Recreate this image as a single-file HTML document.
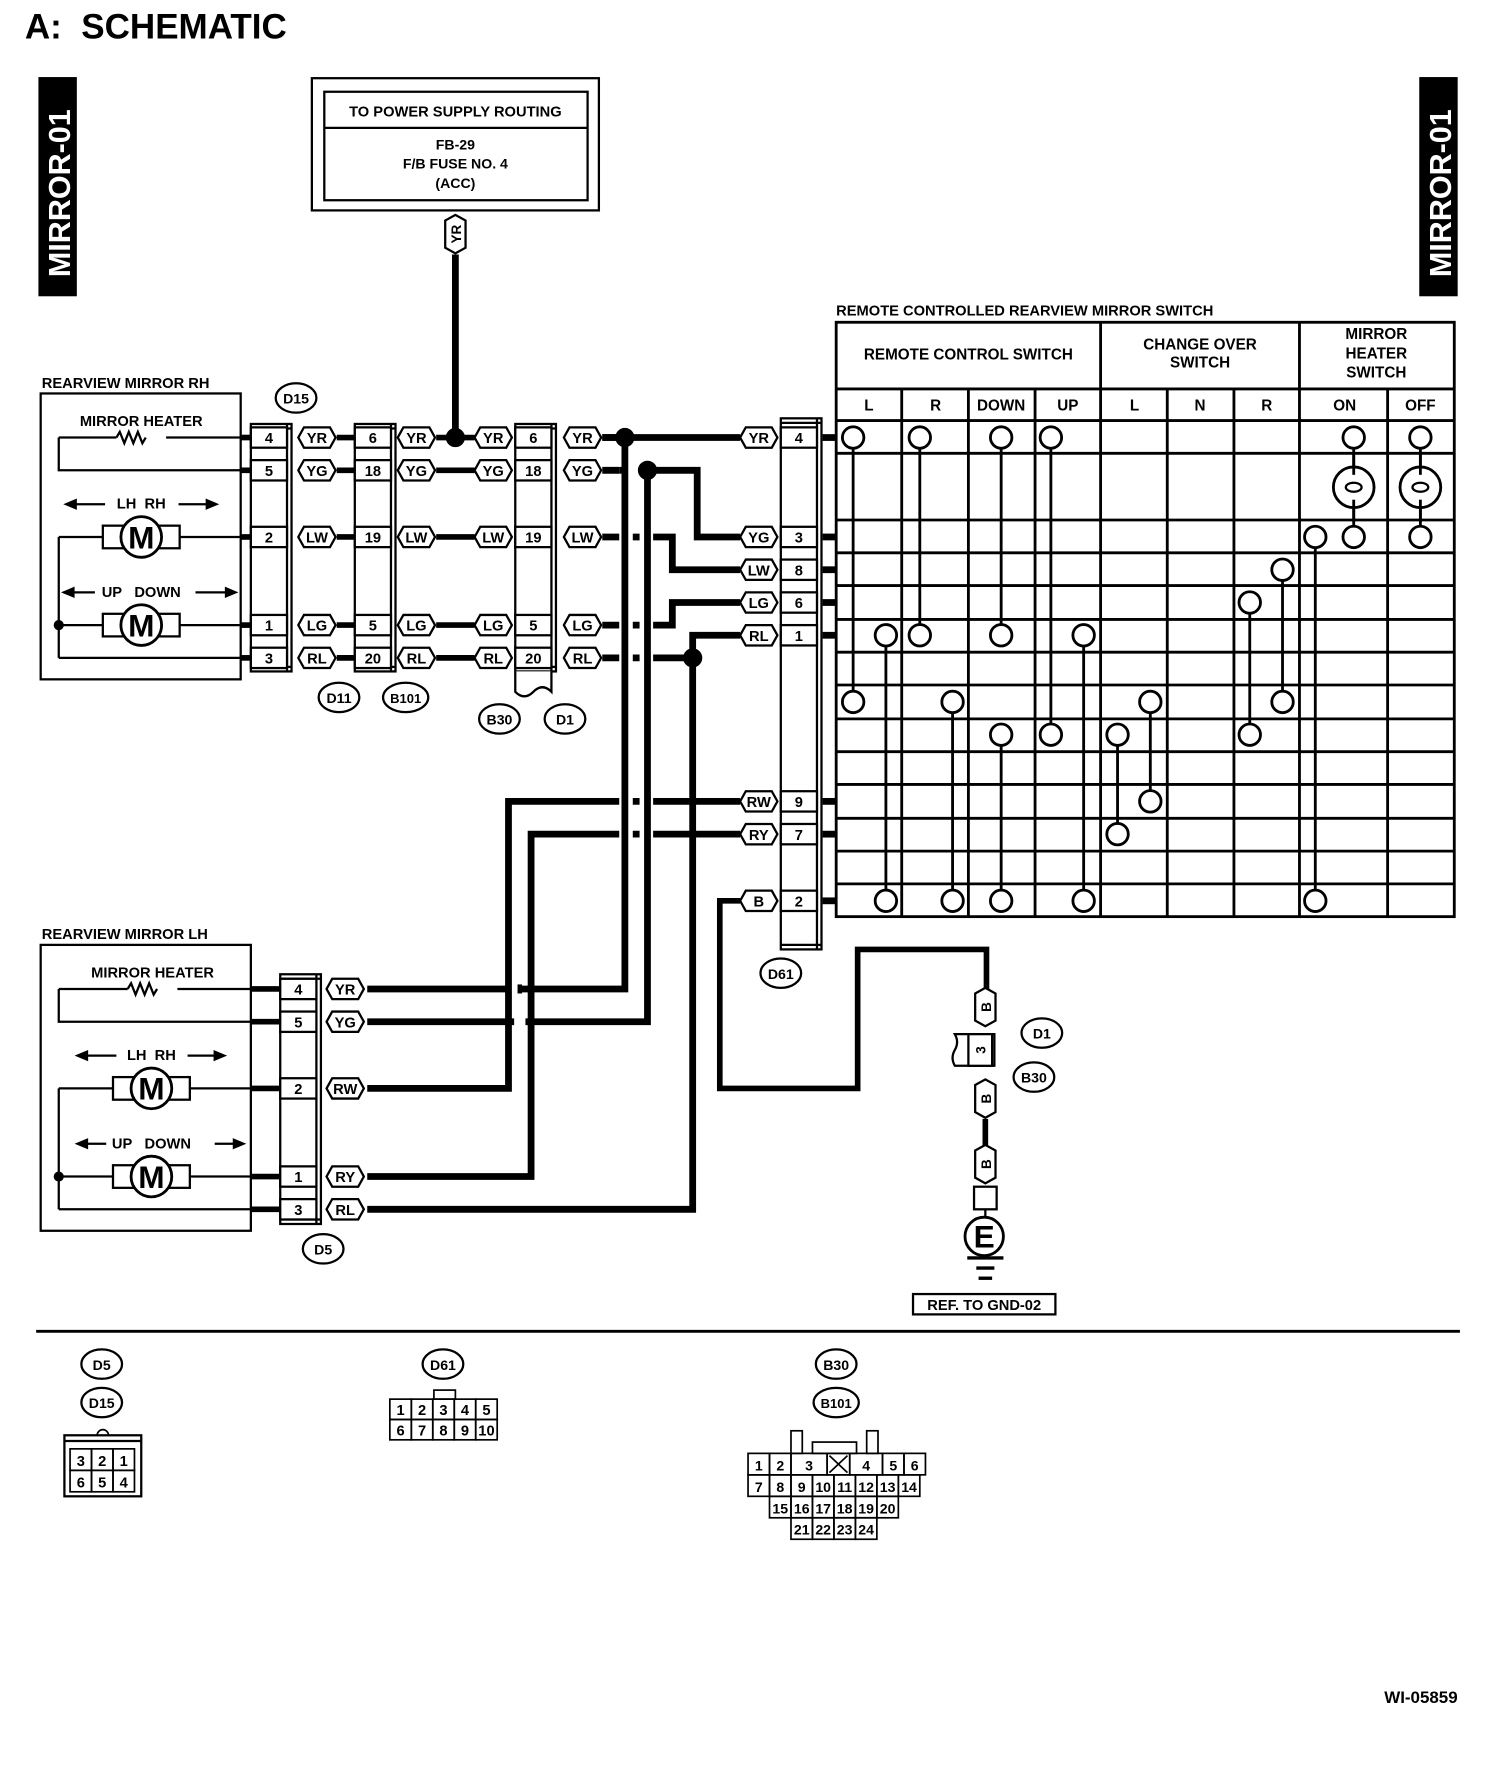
<!DOCTYPE html>
<html><head><meta charset="utf-8"><style>
html,body{margin:0;padding:0;background:#fff;}
svg{display:block}
text{font-family:"Liberation Sans",sans-serif;font-weight:bold;fill:#000}
</style></head><body>
<svg id="s" xmlns="http://www.w3.org/2000/svg" width="1504" height="1770" viewBox="0 0 1331 1566">
<rect width="1331" height="1566" fill="#fff"/>
<text x="22" y="34" font-size="31">A:&#160; SCHEMATIC</text>
<rect x="34" y="68" width="34" height="194" fill="#000"/>
<text transform="translate(62,245) rotate(-90)" font-size="27" style="fill:#fff">MIRROR-01</text>
<rect x="1256" y="68" width="34" height="194" fill="#000"/>
<text transform="translate(1284,245) rotate(-90)" font-size="27" style="fill:#fff">MIRROR-01</text>
<g fill="none" stroke="#000" stroke-width="2">
<rect x="276" y="69" width="254" height="117"/>
<rect x="287" y="81" width="233" height="96"/>
<line x1="287" y1="113" x2="520" y2="113"/>
</g>
<text x="403" y="103" font-size="13" text-anchor="middle" font-weight="normal">TO POWER SUPPLY ROUTING</text>
<text x="403" y="132" font-size="12.5" text-anchor="middle" font-weight="normal">FB-29</text>
<text x="403" y="149" font-size="12.5" text-anchor="middle" font-weight="normal">F/B FUSE NO. 4</text>
<text x="403" y="166" font-size="12.5" text-anchor="middle" font-weight="normal">(ACC)</text>
<g id="g"></g>
</svg>
<script>
var o='';
function L(x1,y1,x2,y2,w){o+='<line x1="'+x1+'" y1="'+y1+'" x2="'+x2+'" y2="'+y2+'" stroke="#000" stroke-width="'+(w||2)+'"/>';}
function P(d,w){o+='<path d="'+d+'" fill="none" stroke="#000" stroke-width="'+(w||6)+'" stroke-linejoin="miter"/>';}
function R(x,y,w,h,sw,f){o+='<rect x="'+x+'" y="'+y+'" width="'+w+'" height="'+h+'" fill="'+(f||'none')+'" stroke="#000" stroke-width="'+(sw||2)+'"/>';}
function T(x,y,t,s,a,extra){o+='<text x="'+x+'" y="'+y+'" font-size="'+(s||13)+'" text-anchor="'+(a||'middle')+'" '+(extra||'')+'>'+t+'</text>';}
function C(x,y,r,f,sw){o+='<circle cx="'+x+'" cy="'+y+'" r="'+r+'" fill="'+(f||'#fff')+'" stroke="#000" stroke-width="'+(sw||2)+'"/>';}
function E(x,y,t,rx){o+='<ellipse cx="'+x+'" cy="'+y+'" rx="'+(rx||18)+'" ry="13" fill="#fff" stroke="#000" stroke-width="2"/>';T(x,y+5,t,t.length>3?11.5:12.5);}
function WL(x,y,t){
 var w=33,h=18;o+='<path d="M'+(x+5)+' '+(y-h/2)+'H'+(x+w-5)+'L'+(x+w)+' '+y+'L'+(x+w-5)+' '+(y+h/2)+'H'+(x+5)+'L'+x+' '+y+'Z" fill="#fff" stroke="#000" stroke-width="2"/>';T(x+w/2,y+5,t,13);}
function WV(x,y,t){
 var w=18,h=34;o+='<path d="M'+(x-w/2)+' '+(y+5)+'L'+x+' '+y+'L'+(x+w/2)+' '+(y+5)+'V'+(y+h-5)+'L'+x+' '+(y+h)+'L'+(x-w/2)+' '+(y+h-5)+'Z" fill="#fff" stroke="#000" stroke-width="2"/>';
 o+='<text transform="translate('+(x+5)+','+(y+h/2)+') rotate(-90)" font-size="12" text-anchor="middle">'+t+'</text>';}
function CONN(x,y1,y2,pins,w){w=w||36; R(x,y1,w,y2-y1,2,'#fff');L(x+w-4,y1,x+w-4,y2,2);L(x,y1+4,x+w,y1+4,2);L(x,y2-4,x+w,y2-4,2);
 pins.forEach(function(p){R(x,p[0]-9,w-4,18,2,'#fff');T(x+(w-4)/2,p[0]+5,p[1],13);});}
P('M403 225V387',6);WV(403,190,'YR');
T(37,343,'REARVIEW MIRROR RH',13,'start');
R(36,348,177,253,2);
T(125,377,'MIRROR HEATER',13);
function zig(x,y){o+='<path d="M'+x+' '+y+'l3 -5 l4 10 l4 -10 l4 10 l4 -10 l4 10 l3 -5" fill="none" stroke="#000" stroke-width="2"/>';}
function motor(cx,y){R(cx-34,y-10,68,20,2,'#fff');C(cx,y,18,'#fff',2.5);T(cx,y+10,'M',28);}
P('M52 387H103',2);zig(103,387);P('M147 387H222',2);P('M52 387V416H222',2);
L(52,475,91,475,2);L(52,475,52,582,2);L(159,475,222,475,2);motor(125,475);
L(52,553,91,553,2);L(159,553,222,553,2);motor(125,553);L(52,582,222,582,2);C(52,553,4,'#000',1);
T(125,450,'LH&#160; RH',13);P('M60 446H93 M158 446H190',2);
o+='<path d="M56 446l12 -5v10z M194 446l-12 -5v10z" fill="#000"/>';
T(125,528,'UP&#160;&#160; DOWN',13);P('M56 524H84 M173 524H208',2);
o+='<path d="M54 524l12 -5v10z M211 524l-12 -5v10z" fill="#000"/>';
var rows=[[387,'4','YR'],[416,'5','YG'],[475,'2','LW'],[553,'1','LG'],[582,'3','RL']];
rows.forEach(function(r){P('M213 '+r[0]+'H222',5);P('M298 '+r[0]+'H314',5);P('M386 '+r[0]+'H420',5);P('M533 '+r[0]+'H548',6);});
CONN(222,375,594,[[387,'4'],[416,'5'],[475,'2'],[553,'1'],[582,'3']]);
var b1={387:'6',416:'18',475:'19',553:'5',582:'20'};
CONN(314,375,594,rows.map(function(r){return [r[0],b1[r[0]]];}));
CONN(456,375,594,rows.map(function(r){return [r[0],b1[r[0]]];}));
o+='<path d="M456 594V612 q8 8 16 0 q8 -8 16 0 V594" fill="#fff" stroke="#000" stroke-width="2"/>';
rows.forEach(function(r){WL(264,r[0],r[2]);WL(352,r[0],r[2]);WL(420,r[0],r[2]);WL(499,r[0],r[2]);});
C(403,387,8,'#000',1);
E(262,352,'D15');E(300,617,'D11');E(359,617,'B101',20);E(442,636,'B30');E(500,636,'D1');
P('M533 387H655',6);C(553,387,8,'#000',1);
P('M553 387V875H459 M452 875H325',6);P('M460 871V879',4);
P('M548 416H555',6);P('M573 416H617V475H655',6);C(573,416,8,'#000',1);
P('M573 416V904H465 M455 904H325',6);
P('M560 475H566 M578 475H595V504H655',6);
P('M560 553H566 M578 553H595V533H655',6);
P('M560 582H566 M578 582H613V562H655',6);C(613,582,8,'#000',1);
P('M613 582V1070H325',6);
P('M655 709H578 M566 709H560 M548 709H450V963H325',6);
P('M655 738H578 M566 738H560 M548 738H470V1041H325',6);
P('M655 797H637V963H759V840H873V878',5);
var d61=[[387,'4','YR'],[475,'3','YG'],[504,'8','LW'],[533,'6','LG'],[562,'1','RL'],[709,'9','RW'],[738,'7','RY'],[797,'2','B']];
d61.forEach(function(r){P('M728 '+r[0]+'H740',6);});
CONN(691,370,840,d61.map(function(r){return [r[0],r[1]];}));
d61.forEach(function(r){WL(655,r[0],r[2]);});
E(691,861,'D61');
T(740,279,'REMOTE CONTROLLED REARVIEW MIRROR SWITCH',13,'start');
R(740,285,547,526,2.5);
var cols=[798,857,916,1033,1092,1228];cols.forEach(function(x){L(x,344,x,811,2.5);});
[974,1150].forEach(function(x){L(x,285,x,811,2.5);});
[344,372,401,460,489,518,548,577,606,636,665,694,724,753,782].forEach(function(y){L(740,y,1287,y,2.5);});
T(857,318,'REMOTE CONTROL SWITCH',13.5);T(1062,309,'CHANGE OVER',13.5);T(1062,325,'SWITCH',13.5);
T(1218,300,'MIRROR',13.5);T(1218,317,'HEATER',13.5);T(1218,334,'SWITCH',13.5);
var hd=[[769,'L'],[828,'R'],[886,'DOWN'],[945,'UP'],[1004,'L'],[1062,'N'],[1121,'R'],[1190,'ON'],[1257,'OFF']];
hd.forEach(function(h){T(h[0],363,h[1],13.5);});
var v=[[755,387,621],[814,387,562],[886,387,562],[930,387,650],[784,562,797],[843,621,797],[886,650,797],[959,562,797],[1018,621,709],[989,650,738],[1106,533,650],[1135,504,621],[1164,475,797],[1198,387,475],[1257,387,475]];
v.forEach(function(a){L(a[0],a[1],a[0],a[2],2.5);});
[1198,1257].forEach(function(x){C(x,431,18,'#fff',2.5);o+='<ellipse cx="'+x+'" cy="431" rx="7" ry="4" fill="none" stroke="#000" stroke-width="2"/>';L(x,401,x,420,2.5);L(x,442,x,462,2.5);});
var c=[[755,387],[814,387],[886,387],[930,387],[1198,387],[1257,387],[1164,475],[1198,475],[1257,475],[1135,504],[1106,533],[784,562],[814,562],[886,562],[959,562],[755,621],[843,621],[1018,621],[1135,621],[886,650],[930,650],[989,650],[1106,650],[1018,709],[989,738],[784,797],[843,797],[886,797],[959,797],[1164,797]];
c.forEach(function(p){C(p[0],p[1],9.5,'#fff',2.5);});
T(37,831,'REARVIEW MIRROR LH',13,'start');
R(36,836,186,253,2);
T(135,865,'MIRROR HEATER',13);
P('M52 875H113',2);zig(113,875);P('M157 875H248',2);P('M52 875V904H248',2);
L(52,963,100,963,2);L(52,963,52,1070,2);L(168,963,248,963,2);motor(134,963);
L(52,1041,100,1041,2);L(168,1041,248,1041,2);motor(134,1041);L(52,1070,248,1070,2);C(52,1041,4,'#000',1);
T(134,938,'LH&#160; RH',13);P('M70 934H103 M166 934H197',2);
o+='<path d="M66 934l12 -5v10z M201 934l-12 -5v10z" fill="#000"/>';
T(134,1016,'UP&#160;&#160; DOWN',13);P('M70 1012H94 M190 1012H214',2);
o+='<path d="M66 1012l12 -5v10z M218 1012l-12 -5v10z" fill="#000"/>';
[[875,'4','YR'],[904,'5','YG'],[963,'2','RW'],[1041,'1','RY'],[1070,'3','RL']].forEach(function(r){P('M222 '+r[0]+'H248',5);WL(289,r[0],r[2]);});
CONN(248,862,1083,[[875,'4'],[904,'5'],[963,'2'],[1041,'1'],[1070,'3']]);
E(286,1105,'D5');
WV(872,874,'B');
o+='<path d="M845 915H880V943H845q-4 -7 0 -14q4 -7 0 -14z" fill="#fff" stroke="#000" stroke-width="2"/>';
R(857,915,21,28,2,'#fff');o+='<text transform="translate(872,929) rotate(-90)" font-size="12" text-anchor="middle">3</text>';
WV(872,955,'B');P('M872 990V1014',5);WV(872,1013,'B');
R(862,1050,20,20,2,'#fff');L(872,1070,872,1076,2);
C(871,1094,17,'#fff',2.5);T(871,1104,'E',28);
L(856,1113,888,1113,3);L(864,1122,880,1122,3);L(866,1131,878,1131,3);
R(808,1145,126,18,2);T(871,1159,'REF. TO GND-02',13);
E(922,914,'D1');E(915,953,'B30');
L(32,1178,1292,1178,2.5);
E(90,1207,'D5');E(90,1241,'D15');
R(57,1270,68,54,2);L(57,1275,125,1275,2);o+='<path d="M86 1270a5 5 0 0 1 10 0" fill="none" stroke="#000" stroke-width="1.5"/>';
[['3','2','1'],['6','5','4']].forEach(function(rw,i){rw.forEach(function(t,j){R(62+j*19,1282+i*19,19,19,1.5);T(71.5+j*19,1297+i*19,t,13,'middle','font-weight="normal"');});});
E(392,1207,'D61');
R(384,1230,19,8,1.5,'#fff');
[['1','2','3','4','5'],['6','7','8','9','10']].forEach(function(rw,i){rw.forEach(function(t,j){R(345+j*19,1238+i*18,19,18,1.5);T(354.5+j*19,1252+i*18,t,13,'middle','font-weight="normal"');});});
E(740,1207,'B30');E(740,1241,'B101',20);
R(700,1266,10,20,1.5);R(767,1266,10,20,1.5);R(719,1276,39,10,1.5);
var g=[[662,1286,['1','2','3','X','4','5','6'],[19,19,32,20,29,19,19]],[662,1305,['7','8','9','10','11','12','13','14'],[19,19,19,19,19,19,19,19]],[681,1324,['15','16','17','18','19','20'],[19,19,19,19,19,19]],[700,1343,['21','22','23','24'],[19,19,19,19]]];
g.forEach(function(r){var x=r[0];r[2].forEach(function(t,j){var w=r[3][j];R(x,r[1],w,19,1.5);if(t=='X'){L(x+2,r[1]+2,x+w-2,r[1]+17,1.5);L(x+w-2,r[1]+2,x+2,r[1]+17,1.5);}else T(x+w/2,r[1]+15,t,12.5,'middle','font-weight="normal"');x+=w;});});
T(1290,1507,'WI-05859',15,'end','font-weight="normal"');
document.getElementById('g').innerHTML=o;
</script>
</body></html>
